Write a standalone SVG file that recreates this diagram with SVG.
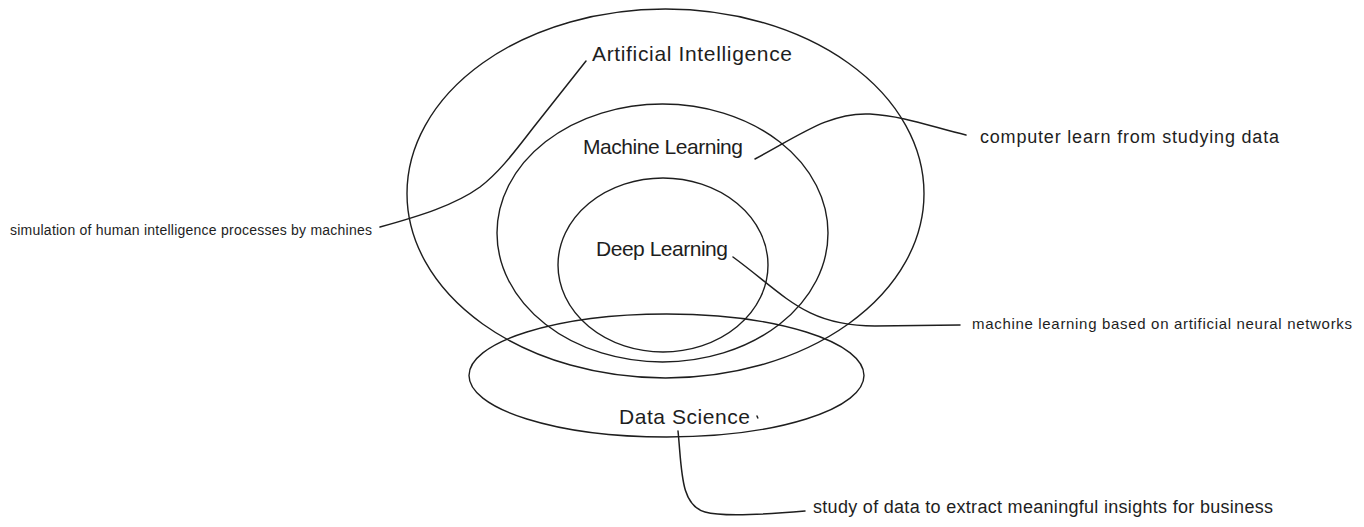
<svg xmlns="http://www.w3.org/2000/svg" width="1364" height="527" viewBox="0 0 1364 527">
  <style>
    .shape { fill: none; stroke: #1e1e1e; stroke-width: 1.4; }
    .conn { fill: none; stroke: #1e1e1e; stroke-width: 1.5; stroke-linecap: round; }
    .lbl { font-family: "Liberation Sans", Arial, sans-serif; fill: #1e1e1e; }
    .big { font-size: 21px; }
    .note { font-size: 14px; }
    .note3 { font-size: 15px; }
    .note2 { font-size: 18px; }
  </style>
  <rect width="1364" height="527" fill="#ffffff"/>

  <g id="node-ai">
    <ellipse class="shape" cx="665.5" cy="193.5" rx="258.5" ry="184.5"/>
    <text class="lbl big" x="592" y="61" textLength="200" lengthAdjust="spacing">Artificial Intelligence</text>
  </g>
  <g id="node-ml">
    <ellipse class="shape" cx="662.5" cy="233" rx="165.5" ry="129"/>
    <text class="lbl big" x="583" y="154" textLength="160" lengthAdjust="spacing">Machine Learning</text>
  </g>
  <g id="node-dl">
    <ellipse class="shape" cx="663" cy="265" rx="105" ry="87"/>
    <text class="lbl big" x="596" y="256" textLength="132" lengthAdjust="spacing">Deep Learning</text>
  </g>
  <g id="node-ds">
    <ellipse class="shape" cx="666.5" cy="375.5" rx="197.5" ry="61.5"/>
    <text class="lbl big" x="619" y="424" textLength="131" lengthAdjust="spacing">Data Science</text>
    <path class="conn" d="M757,416 L757.8,418" stroke-width="1.2"/>
  </g>

  <g id="note-ai">
    <text class="lbl note" x="10" y="235" textLength="362" lengthAdjust="spacing">simulation of human intelligence processes by machines</text>
  </g>
  <g id="note-ml">
    <text class="lbl note2" x="980" y="143" textLength="299" lengthAdjust="spacing">computer learn from studying data</text>
  </g>
  <g id="note-dl">
    <text class="lbl note3" x="972" y="329" textLength="380" lengthAdjust="spacing">machine learning based on artificial neural networks</text>
  </g>
  <g id="note-ds">
    <text class="lbl note2" x="813" y="513" textLength="460" lengthAdjust="spacing">study of data to extract meaningful insights for business</text>
  </g>

  <g id="connectors">
    <path class="conn" d="M380,227 C420,216 455,205 480,187 C497,174 510,158 533,128 L586,61"/>
    <path class="conn" d="M755,159 C800,135 830,112 870,114 C905,116 935,128 966,135"/>
    <path class="conn" d="M733,257 C785,295 805,326 875,326 L960,325"/>
    <path class="conn" d="M678,431 C682,470 680,505 705,512 C722,517 760,515 805,511"/>
  </g>
</svg>
